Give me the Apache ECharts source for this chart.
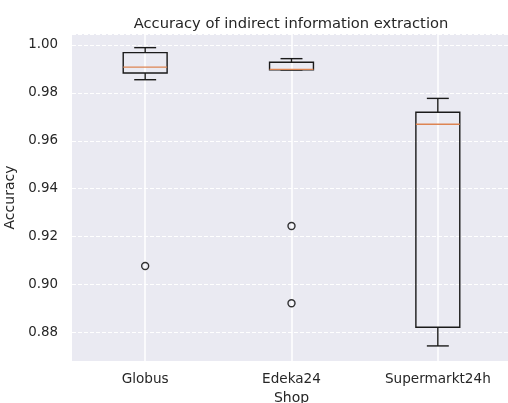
<!DOCTYPE html>
<html>
<head>
    <meta charset="utf-8">
    <title>Accuracy boxplot</title>
    <script src="https://cdn.jsdelivr.net/npm/echarts@6/dist/echarts.min.js"></script>
    <style>
        html, body { margin: 0; padding: 0; background: #fff; }
    </style>
</head>
<body>
    <div id="chart" style="width: 508px;height:403px;"></div>
    <script type="text/javascript">
        // shops on the x axis
        var shops = ['Globus', 'Edeka24', 'Supermarkt24h'];
        // [lower whisker, q1, median, q3, upper whisker]
        var globusBox = [0.9855, 0.9883, 0.9908, 0.9968, 0.9989];
        var edekaBox = [0.9896, 0.9896, 0.9898, 0.9928, 0.9943];
        var supermarktBox = [0.8743, 0.8821, 0.9669, 0.9719, 0.9777];
        // outliers [shop index, value]
        var outliers = [[0, 0.9077], [1, 0.9244], [1, 0.8921]];

        var boxes = [globusBox, edekaBox, supermarktBox].map(function (b, i) {
            return [i].concat(b);
        });

        var textColor = '#262626';
        var font = 'DejaVu Sans';

        function renderBox(params, api) {
            var idx = api.value(0);
            var band = api.size([1, 0])[0];
            var half = band * 0.15;
            var cap = half / 2;
            var lo = api.coord([idx, api.value(1)]);
            var q1 = api.coord([idx, api.value(2)]);
            var med = api.coord([idx, api.value(3)]);
            var q3 = api.coord([idx, api.value(4)]);
            var hi = api.coord([idx, api.value(5)]);
            var x = lo[0];
            var line = { stroke: '#1a1a1a', lineWidth: 1.4, fill: null };
            return {
                type: 'group',
                children: [
                    { type: 'line', shape: { x1: x, y1: hi[1], x2: x, y2: q3[1] }, style: line },
                    { type: 'line', shape: { x1: x, y1: q1[1], x2: x, y2: lo[1] }, style: line },
                    { type: 'line', shape: { x1: x - cap, y1: hi[1], x2: x + cap, y2: hi[1] }, style: line },
                    { type: 'line', shape: { x1: x - cap, y1: lo[1], x2: x + cap, y2: lo[1] }, style: line },
                    { type: 'rect', shape: { x: x - half, y: q3[1], width: half * 2, height: q1[1] - q3[1] }, style: line },
                    { type: 'line', shape: { x1: x - half, y1: med[1], x2: x + half, y2: med[1] },
                      style: { stroke: '#dd8452', lineWidth: 1.3 } }
                ]
            };
        }

        var chart = echarts.init(document.getElementById('chart'));
        chart.setOption({
            animation: false,
            title: {
                text: 'Accuracy of indirect information extraction',
                left: 286,
                textAlign: 'center',
                top: 12,
                textStyle: { fontFamily: font, fontSize: 14.7, fontWeight: 'normal', color: textColor }
            },
            grid: {
                left: 72, right: -3, top: 34, bottom: 42,
                outerBoundsMode: 'none',
                containLabel: false,
                show: true, backgroundColor: '#eaeaf2', borderWidth: 0
            },
            xAxis: {
                type: 'category',
                data: shops,
                name: 'Shop',
                nameLocation: 'middle',
                nameGap: 29,
                nameTextStyle: { fontFamily: font, fontSize: 14, color: textColor },
                axisLine: { show: false },
                axisTick: { show: false },
                axisLabel: { margin: 11, fontFamily: font, fontSize: 13.6, color: textColor },
                splitLine: { show: true, alignWithLabel: true, lineStyle: { color: '#fff', width: 1.5 } }
            },
            yAxis: {
                type: 'value',
                min: 0.868,
                max: 1.0046,
                splitNumber: 6,
                name: 'Accuracy',
                nameLocation: 'middle',
                nameGap: 54,
                nameTextStyle: { fontFamily: font, fontSize: 14, color: textColor },
                axisLine: { show: false },
                axisTick: { show: false },
                axisLabel: {
                    margin: 14, fontFamily: font, fontSize: 13.4, color: textColor,
                    showMinLabel: false, showMaxLabel: false,
                    formatter: function (v) { return v.toFixed(2); }
                },
                splitLine: { show: true, lineStyle: { color: '#fff', type: [4, 2], width: 1 } }
            },
            series: [
                {
                    type: 'custom',
                    renderItem: renderBox,
                    encode: { x: 0, y: [1, 2, 3, 4, 5] },
                    data: boxes,
                    z: 3
                },
                {
                    type: 'scatter',
                    data: outliers,
                    symbol: 'circle',
                    symbolSize: 7,
                    itemStyle: { color: 'rgba(0,0,0,0)', borderColor: '#000', borderWidth: 1.4 },
                    z: 4
                }
            ]
        });
    </script>
</body>
</html>
